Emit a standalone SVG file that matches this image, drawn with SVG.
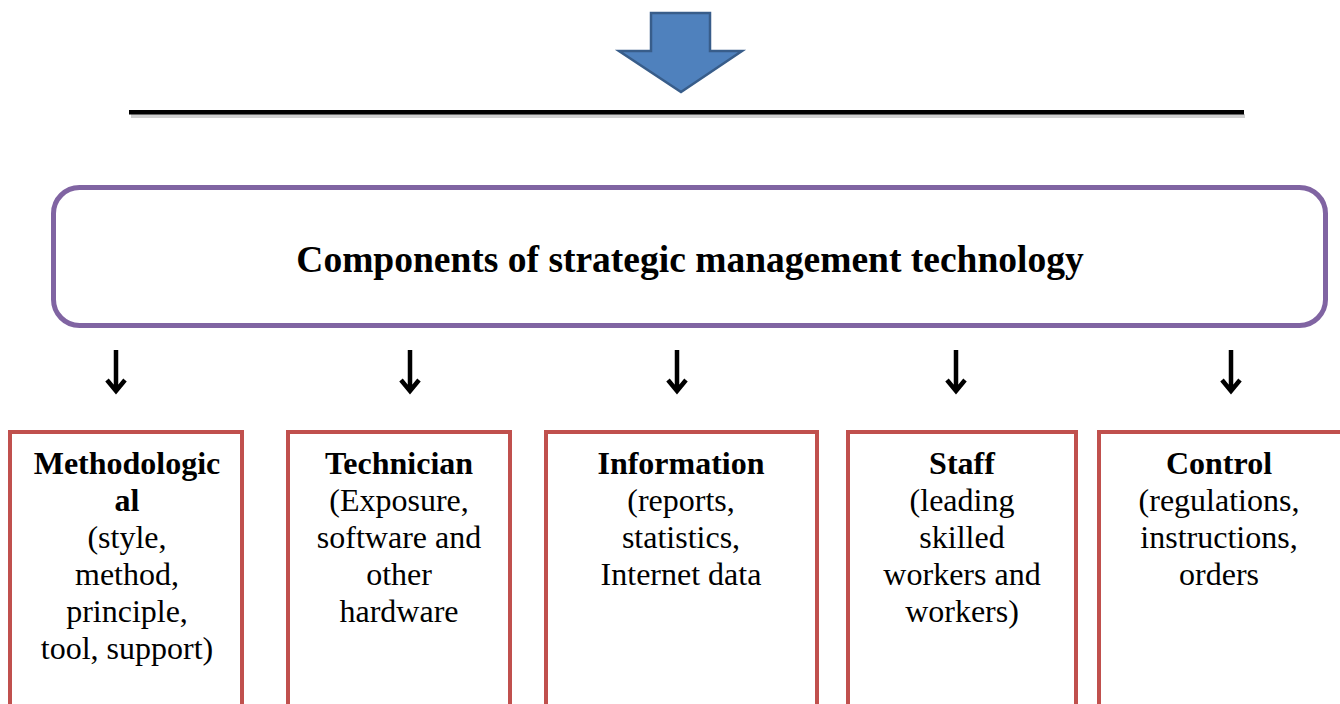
<svg xmlns="http://www.w3.org/2000/svg" width="1340" height="704" viewBox="0 0 1340 704">
<defs>
<style>
.t{font-family:"Liberation Serif","Times New Roman",serif;font-size:32px;fill:#000;text-anchor:middle}
.b{font-weight:bold}
.title{font-size:37.5px}
.box{fill:#fff;stroke:#C0504D;stroke-width:4}
.sa{stroke:#000;stroke-width:4.5;fill:none;stroke-linejoin:miter}
</style>
</defs>
<rect width="1340" height="704" fill="#fff"/>
<g id="big-arrow">
<polygon points="651,13 710,13 710,51 742,51 681,92 619,51 651,51" fill="#4F81BD" stroke="#385D8A" stroke-width="2.5" stroke-linejoin="miter"/>
</g>
<g id="divider">
<rect x="131" y="114" width="1114" height="4" fill="#d0d0d0"/>
<rect x="129" y="110" width="1115" height="4.5" fill="#000"/>
</g>
<g id="main">
<rect x="53.5" y="187.5" width="1272" height="138" rx="26" ry="26" fill="#fff" stroke="#8064A2" stroke-width="5"/>
<text class="t b title" x="690" y="272">Components of strategic management technology</text>
</g>
<g id="connectors">
<g class="sa">
<path d="M116,350 V390 M107,380 L116,391 L125,380"/>
<path d="M410,350 V390 M401,380 L410,391 L419,380"/>
<path d="M677,350 V390 M668,380 L677,391 L686,380"/>
<path d="M956,350 V390 M947,380 L956,391 L965,380"/>
<path d="M1231,350 V390 M1222,380 L1231,391 L1240,380"/>
</g>
</g>
<g id="methodological">
<rect class="box" x="10" y="432" width="232" height="290"/>
<text class="t b" x="127" y="474">Methodologic</text>
<text class="t b" x="127" y="511">al</text>
<text class="t" x="127" y="548">(style,</text>
<text class="t" x="127" y="585">method,</text>
<text class="t" x="127" y="622">principle,</text>
<text class="t" x="127" y="659">tool, support)</text>
</g>
<g id="technician">
<rect class="box" x="288" y="432" width="222" height="290"/>
<text class="t b" x="399" y="474">Technician</text>
<text class="t" x="399" y="511">(Exposure,</text>
<text class="t" x="399" y="548">software and</text>
<text class="t" x="399" y="585">other</text>
<text class="t" x="399" y="622">hardware</text>
</g>
<g id="information">
<rect class="box" x="546" y="432" width="271" height="290"/>
<text class="t b" x="681" y="474">Information</text>
<text class="t" x="681" y="511">(reports,</text>
<text class="t" x="681" y="548">statistics,</text>
<text class="t" x="681" y="585">Internet data</text>
</g>
<g id="staff">
<rect class="box" x="848" y="432" width="228" height="290"/>
<text class="t b" x="962" y="474">Staff</text>
<text class="t" x="962" y="511">(leading</text>
<text class="t" x="962" y="548">skilled</text>
<text class="t" x="962" y="585">workers and</text>
<text class="t" x="962" y="622">workers)</text>
</g>
<g id="control">
<rect class="box" x="1099" y="432" width="260" height="290"/>
<text class="t b" x="1219" y="474">Control</text>
<text class="t" x="1219" y="511">(regulations,</text>
<text class="t" x="1219" y="548">instructions,</text>
<text class="t" x="1219" y="585">orders</text>
</g>
</svg>
